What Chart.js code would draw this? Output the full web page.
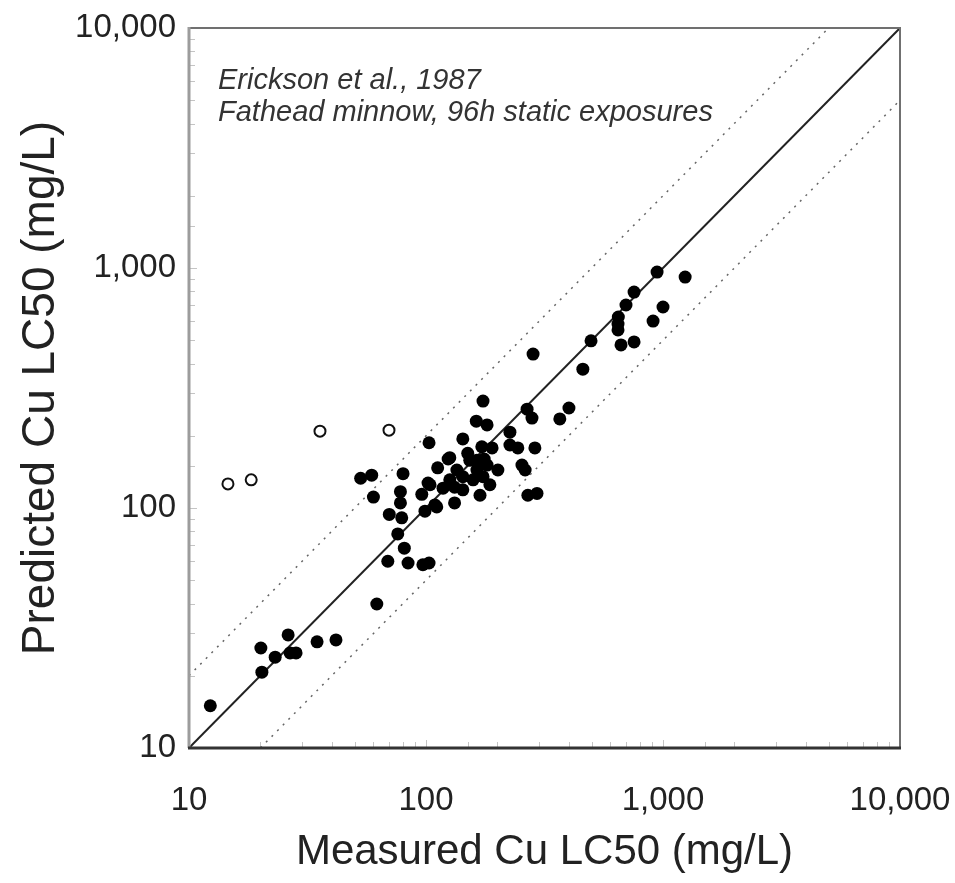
<!DOCTYPE html>
<html>
<head>
<meta charset="utf-8">
<title>Measured vs Predicted Cu LC50</title>
<script src="https://cdn.jsdelivr.net/npm/chart.js@4.4.1/dist/chart.umd.min.js"></script>
<style>
    html, body { margin: 0; padding: 0; background: #fff; }
    #wrap { width: 955px; height: 883px; position: relative; }
</style>
</head>
<body>
<div id="wrap"><canvas id="lc50Chart"></canvas></div>
<script>
// Measured vs predicted Cu LC50 (Erickson et al., 1987)

// Filled points: measured (x) and predicted (y), mg/L
const measuredFilled = [12.3, 20.1, 20.3, 23.1, 26.2, 26.7, 28.3, 34.7, 41.7, 62,
    53, 59, 60, 80, 70, 78, 78, 79, 76, 81,
    69, 84, 97, 103, 96, 102, 103, 99, 143, 112,
    124, 132, 109, 104, 111, 118, 126, 135, 143, 158,
    164, 174, 181, 201, 169, 126, 150, 153, 172, 190,
    164, 174, 163, 181, 226, 226, 244, 288, 254, 262,
    269, 294, 267, 280, 367, 401, 283, 459, 497, 665,
    755, 646, 646, 648, 698, 755, 908, 1000, 944, 1240,
    132, 143, 186, 176];
const predictedFilled = [15.0, 26.1, 20.7, 23.9, 29.6, 24.9, 24.9, 27.7, 28.2, 39.8,
    133, 137, 111, 139, 94, 117, 105, 91, 78, 68,
    60, 59, 58, 59, 114, 127, 187, 97, 194, 147,
    160, 105, 103, 125, 101, 121, 131, 144, 135, 131,
    144, 135, 151, 144, 113, 162, 169, 158, 180, 178,
    158, 279, 230, 222, 207, 183, 178, 178, 151, 144,
    113, 115, 258, 237, 235, 261, 438, 379, 497, 478,
    492, 584, 552, 625, 701, 794, 601, 688, 962, 917,
    122, 119, 125, 160];

// Open points
const measuredOpen = [14.6, 18.3, 35.7, 69.8];
const predictedOpen = [126, 131, 209, 211];

// Reference lines: 1:1 and factor-of-two bounds
const lineOneX = [10, 10000];
const lineOneY = [10, 10000];
const lineUpperX = [10, 5000];
const lineUpperY = [20, 10000];
const lineLowerX = [20, 10000];
const lineLowerY = [10, 5000];

// Axis range and labelled ticks
const axisMin = 10;
const axisMax = 10000;
const majorTicks = [10, 100, 1000, 10000];
const majorLabels = ['10', '100', '1,000', '10,000'];

const noteLines = ['Erickson et al., 1987', 'Fathead minnow, 96h static exposures'];

function toPoints(xs, ys) {
    return xs.map((x, i) => ({ x: x, y: ys[i] }));
}

function tickLabel(value) {
    const idx = majorTicks.indexOf(Number(value));
    return idx >= 0 ? majorLabels[idx] : '';
}

// Frame, inward minor ticks and the italic note
const framePlugin = {
    id: 'frame',
    beforeDatasetsDraw(chart) {
        const ctx = chart.ctx;
        const area = chart.chartArea;
        const xs = chart.scales.x;
        const ys = chart.scales.y;
        ctx.save();
        ctx.strokeStyle = '#c4c4c4';
        ctx.lineWidth = 1;
        xs.ticks.forEach(t => {
            const px = Math.round(xs.getPixelForValue(t.value)) + 0.5;
            const len = majorTicks.includes(t.value) ? 8 : 6;
            ctx.beginPath();
            ctx.moveTo(px, area.bottom);
            ctx.lineTo(px, area.bottom - len);
            ctx.stroke();
        });
        ys.ticks.forEach(t => {
            const py = Math.round(ys.getPixelForValue(t.value)) + 0.5;
            const len = majorTicks.includes(t.value) ? 8 : 6;
            ctx.beginPath();
            ctx.moveTo(area.left, py);
            ctx.lineTo(area.left + len, py);
            ctx.stroke();
        });
        ctx.restore();
    },
    afterDatasetsDraw(chart) {
        const ctx = chart.ctx;
        const area = chart.chartArea;
        ctx.save();
        ctx.fillStyle = '#333';
        ctx.font = 'italic 29px "Liberation Sans", Arial, sans-serif';
        ctx.textBaseline = 'middle';
        ctx.textAlign = 'left';
        noteLines.forEach((line, i) => {
            ctx.fillText(line, area.left + 29, 81 + i * 32);
        });
        ctx.restore();
    },
    afterDraw(chart) {
        const ctx = chart.ctx;
        const a = chart.chartArea;
        ctx.save();
        // top and right
        ctx.strokeStyle = '#707070';
        ctx.lineWidth = 2;
        ctx.beginPath();
        ctx.moveTo(a.left, a.top);
        ctx.lineTo(a.right, a.top);
        ctx.lineTo(a.right, a.bottom);
        ctx.stroke();
        // left
        ctx.strokeStyle = '#9c9c9c';
        ctx.lineWidth = 3;
        ctx.beginPath();
        ctx.moveTo(a.left, a.top - 1);
        ctx.lineTo(a.left, a.bottom);
        ctx.stroke();
        // bottom
        ctx.strokeStyle = '#333';
        ctx.lineWidth = 3;
        ctx.beginPath();
        ctx.moveTo(a.left - 1, a.bottom);
        ctx.lineTo(a.right + 1, a.bottom);
        ctx.stroke();
        ctx.restore();
    }
};

const ctx = document.getElementById('lc50Chart');
const chart = new Chart(ctx, {
    type: 'scatter',
    data: {
        datasets: [
            {
                label: 'Filled',
                data: toPoints(measuredFilled, predictedFilled),
                backgroundColor: '#000',
                borderColor: '#000',
                pointRadius: 6.5,
                pointBorderWidth: 0,
                order: 1
            },
            {
                label: 'Open',
                data: toPoints(measuredOpen, predictedOpen),
                backgroundColor: '#fff',
                borderColor: '#111',
                pointRadius: 5.5,
                pointBorderWidth: 2,
                order: 1
            },
            {
                label: '1:1',
                type: 'line',
                data: toPoints(lineOneX, lineOneY),
                borderColor: '#222',
                borderWidth: 2,
                pointRadius: 0,
                fill: false,
                order: 3
            },
            {
                label: '2x',
                type: 'line',
                data: toPoints(lineUpperX, lineUpperY),
                borderColor: '#666',
                borderWidth: 1.5,
                borderDash: [2, 6],
                pointRadius: 0,
                fill: false,
                order: 3
            },
            {
                label: '0.5x',
                type: 'line',
                data: toPoints(lineLowerX, lineLowerY),
                borderColor: '#666',
                borderWidth: 1.5,
                borderDash: [2, 6],
                pointRadius: 0,
                fill: false,
                order: 3
            }
        ]
    },
    options: {
        responsive: true,
        maintainAspectRatio: false,
        animation: false,
        layout: {
            padding: { top: 28, right: 55, left: 0, bottom: 0 }
        },
        plugins: {
            legend: { display: false },
            tooltip: { enabled: false }
        },
        scales: {
            x: {
                type: 'logarithmic',
                min: axisMin,
                max: axisMax,
                grid: { display: false, drawTicks: false },
                border: { display: false },
                ticks: {
                    autoSkip: false,
                    maxRotation: 0,
                    padding: 33,
                    color: '#222',
                    font: { family: '"Liberation Sans", Arial, sans-serif', size: 33 },
                    callback: tickLabel
                },
                title: {
                    display: true,
                    text: 'Measured Cu LC50 (mg/L)',
                    color: '#222',
                    font: { family: '"Liberation Sans", Arial, sans-serif', size: 42 },
                    padding: { top: 0, bottom: 5 }
                },
                afterFit(scale) {
                    scale.height = 135;
                    scale.paddingLeft = 0;
                    scale.paddingRight = 0;
                }
            },
            y: {
                type: 'logarithmic',
                min: axisMin,
                max: axisMax,
                grid: { display: false, drawTicks: false },
                border: { display: false },
                ticks: {
                    autoSkip: false,
                    padding: 13,
                    color: '#222',
                    font: { family: '"Liberation Sans", Arial, sans-serif', size: 33 },
                    callback: tickLabel
                },
                title: {
                    display: true,
                    text: 'Predicted Cu LC50 (mg/L)',
                    color: '#222',
                    font: { family: '"Liberation Sans", Arial, sans-serif', size: 46 },
                    padding: { top: 14, bottom: 0 }
                },
                afterFit(scale) {
                    scale.width = 189;
                    scale.paddingTop = 0;
                    scale.paddingBottom = 0;
                }
            }
        }
    },
    plugins: [framePlugin]
});
</script>
</body>
</html>
